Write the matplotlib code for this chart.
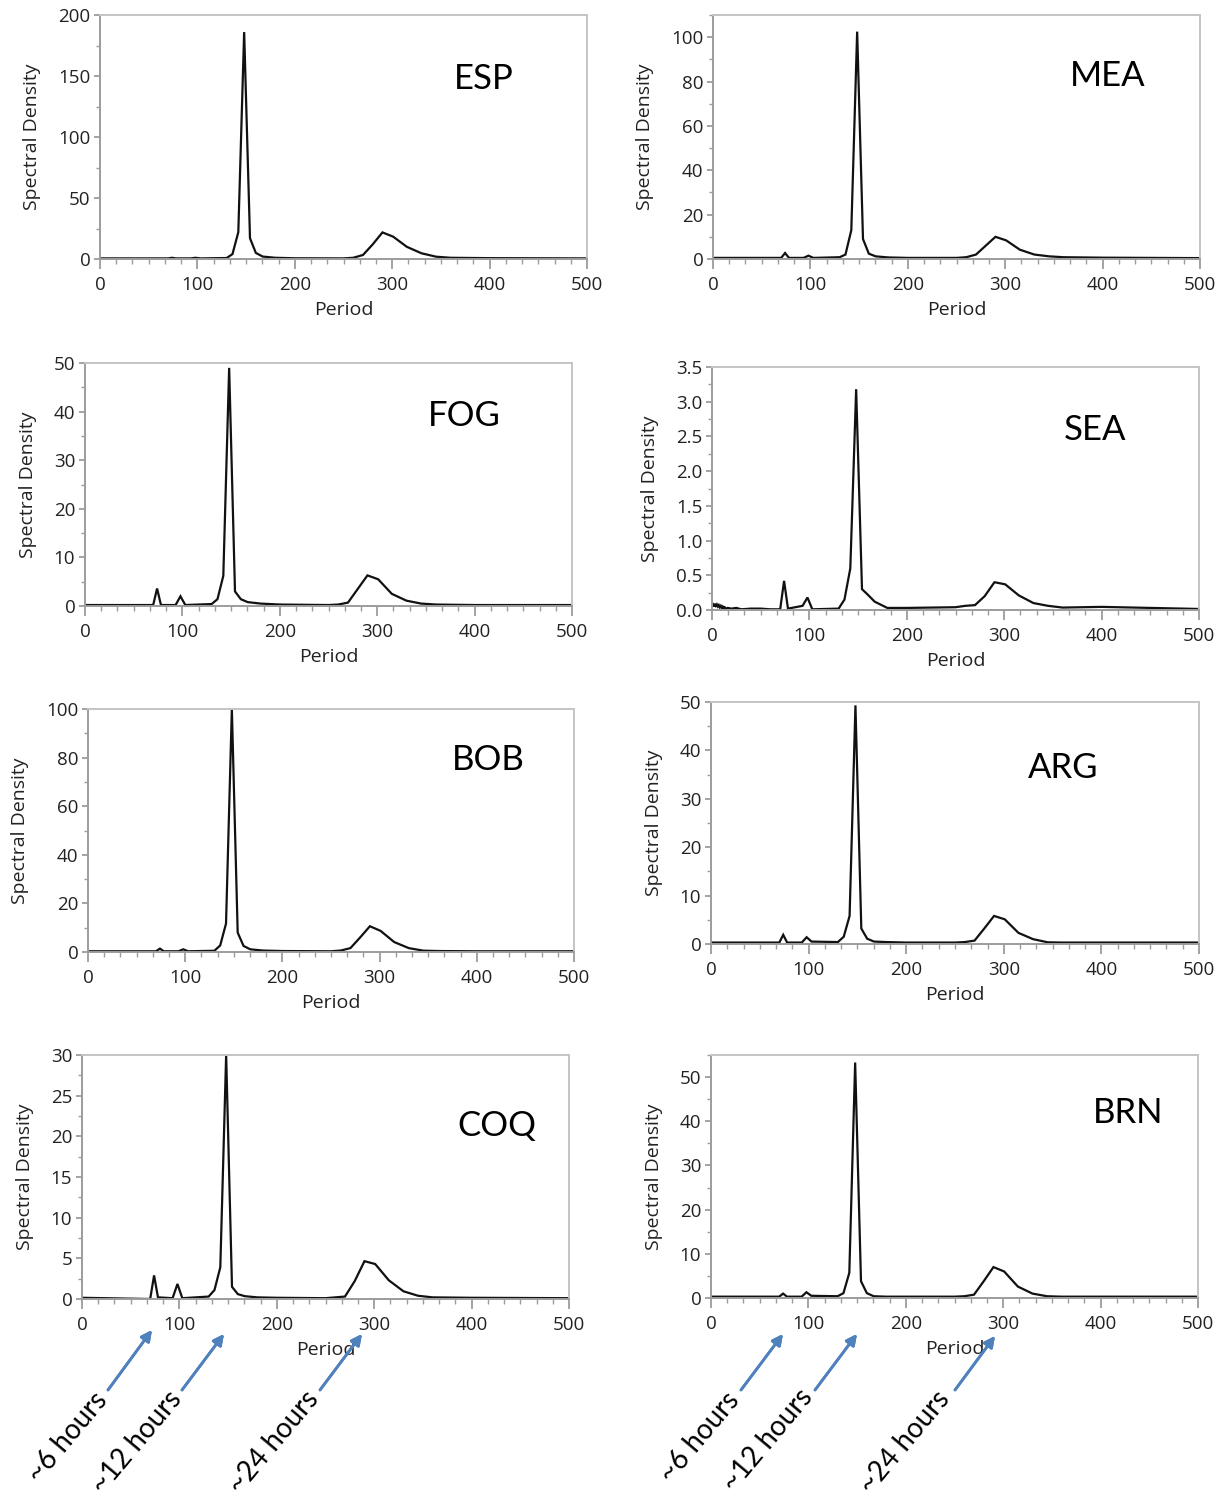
import matplotlib.pyplot as plt
from matplotlib.ticker import MultipleLocator, AutoMinorLocator, FormatStrFormatter

W, H = 1229, 1500

# common period grid
period = [0, 70, 74, 78, 93, 98, 103, 130, 136, 142, 148, 154, 160, 167, 180,
          200, 250, 260, 270, 280, 290, 301, 315, 330, 345, 360, 400, 500]

esp = [0.5, 0.5, 1.0, 0.5, 0.5, 1.0, 0.5, 0.8, 4, 22, 186, 17, 5, 2, 1,
       0.6, 0.5, 1.0, 3.3, 12, 21.8, 18.3, 10, 4.7, 1.9, 1, 0.7, 0.5]
mea = [0.5, 0.5, 2.7, 0.5, 0.5, 1.5, 0.5, 0.8, 2, 13, 102.5, 9, 2.4, 1.2, 0.7,
       0.5, 0.5, 0.8, 2, 6, 10, 8.4, 4.2, 2, 1.2, 0.8, 0.6, 0.4]
fog = [0.2, 0.2, 3.6, 0.2, 0.2, 2.0, 0.2, 0.4, 1.4, 6.2, 49, 3.0, 1.4, 0.8, 0.5,
       0.3, 0.2, 0.3, 0.7, 3.5, 6.3, 5.5, 2.5, 1.1, 0.5, 0.3, 0.2, 0.2]
sea = [0.05, 0.01, 0.42, 0.02, 0.06, 0.18, 0.01, 0.02, 0.15, 0.6, 3.18, 0.3, 0.22, 0.12, 0.03,
       0.03, 0.04, 0.06, 0.07, 0.2, 0.4, 0.37, 0.21, 0.1, 0.06, 0.035, 0.045, 0.015]
bob = [0.3, 0.3, 1.4, 0.3, 0.3, 1.1, 0.3, 0.5, 2.7, 11.7, 100, 8, 2.5, 1.1, 0.6,
       0.4, 0.3, 0.6, 1.6, 6, 10.6, 8.7, 4.1, 1.6, 0.55, 0.4, 0.3, 0.3]
arg = [0.3, 0.3, 1.9, 0.3, 0.3, 1.4, 0.5, 0.4, 1.5, 5.8, 49.3, 3.2, 1.1, 0.5, 0.4,
       0.3, 0.3, 0.4, 0.7, 3.2, 5.8, 5.1, 2.3, 1.0, 0.35, 0.3, 0.3, 0.3]
coq = [0.15, 0.0, 2.9, 0.2, 0.1, 1.85, 0.1, 0.3, 1.1, 3.9, 30, 1.5, 0.6, 0.35, 0.2,
       0.15, 0.1, 0.2, 0.3, 2.2, 4.65, 4.3, 2.3, 0.95, 0.4, 0.2, 0.15, 0.1]
brn = [0.3, 0.3, 1.0, 0.3, 0.3, 1.3, 0.5, 0.4, 1.1, 5.7, 53.3, 3.8, 1.1, 0.4, 0.3,
       0.3, 0.3, 0.4, 0.75, 3.8, 7.0, 6.0, 2.6, 1.0, 0.4, 0.3, 0.3, 0.3]

# SEA has a noisy stretch at the short periods
sea_noise_period = [0, 1, 2, 3, 4, 5, 6, 7, 8, 9, 10, 11, 12, 13, 14, 16, 20, 25, 30, 40, 50, 60]
sea_noise = [0.06, 0.08, 0.05, 0.09, 0.06, 0.08, 0.05, 0.07, 0.04, 0.06, 0.03,
             0.05, 0.03, 0.04, 0.02, 0.03, 0.02, 0.03, 0.01, 0.02, 0.02, 0.01]

names = ["ESP", "MEA", "FOG", "SEA", "BOB", "ARG", "COQ", "BRN"]
series = [esp, mea, fog, sea, bob, arg, coq, brn]
ylims = [200, 110, 50, 3.5, 100, 50, 30, 55]
ysteps = [50, 20, 10, 0.5, 20, 10, 5, 10]

hour_labels = ["~6 hours", "~12 hours", "~24 hours"]

# layout in pixels: left, top, right, bottom
boxes = [(100, 15, 587, 259), (713, 15, 1200, 259),
         (85, 363, 572, 606), (712, 367, 1199, 610),
         (88, 709, 574, 952), (711, 702, 1199, 944),
         (82, 1055, 569, 1299), (711, 1055, 1198, 1298)]
title_pos = [(484, 79), (1108, 76), (464, 416), (1095, 430),
             (488, 760), (1063, 768), (497, 1126), (1128, 1113)]

tick_font = "Open Sans"
call_font = "Lato"
spine_dark = "#9c9c9c"
spine_light = "#c4c4c4"
arrow_blue = "#4f81bd"

fig = plt.figure(figsize=(W / 100, H / 100), dpi=100)

for i, name in enumerate(names):
    l, t, r, b = boxes[i]
    ax = fig.add_axes([l / W, 1 - b / H, (r - l) / W, (b - t) / H])
    if name == "SEA":
        x = sea_noise_period + period[1:]
        y = sea_noise + sea[1:]
    else:
        x, y = period, series[i]
    ax.plot(x, y, color="#111111", lw=1.6, solid_joinstyle="miter")
    ax.set_xlim(0, 500)
    ax.set_ylim(0, ylims[i])
    ax.xaxis.set_major_locator(MultipleLocator(100))
    ax.xaxis.set_minor_locator(AutoMinorLocator(6))
    ax.yaxis.set_major_locator(MultipleLocator(ysteps[i]))
    ax.yaxis.set_minor_locator(AutoMinorLocator(2))
    if name == "SEA":
        ax.yaxis.set_major_formatter(FormatStrFormatter("%.1f"))
    for s in ["left", "bottom"]:
        ax.spines[s].set_color(spine_dark)
        ax.spines[s].set_linewidth(1.4)
    for s in ["top", "right"]:
        ax.spines[s].set_color(spine_light)
        ax.spines[s].set_linewidth(1.4)
    ax.tick_params(axis="x", which="major", direction="out", length=7, width=1.3,
                   color=spine_dark, labelsize=13.5, labelcolor="#222222", pad=5)
    ax.tick_params(axis="x", which="minor", direction="out", length=3.5, width=1.0,
                   color=spine_dark)
    ax.tick_params(axis="y", which="major", direction="out", length=4, width=1.3,
                   color=spine_dark, labelsize=13.5, labelcolor="#222222", pad=3)
    ax.tick_params(axis="y", which="minor", direction="out", length=3, width=1.0,
                   color=spine_dark)
    for lab in ax.get_xticklabels() + ax.get_yticklabels():
        lab.set_family(tick_font)
    ax.set_xlabel("Period", family=tick_font, fontsize=14, color="#222222", labelpad=5)
    ax.set_ylabel("Spectral Density", family=tick_font, fontsize=14, color="#222222",
                  labelpad=12)
    tx, ty = title_pos[i]
    fig.text(tx / W, 1 - ty / H, name, family=call_font, fontsize=25,
             ha="center", va="center", color="black")

# arrows and rotated labels under the bottom row
arrows = [((108, 1390), (152, 1330)), ((182, 1390), (224, 1334)), ((320, 1390), (362, 1334)),
          ((741, 1390), (783, 1334)), ((815, 1390), (857, 1334)), ((955, 1390), (995, 1336))]
label_pos = [(68, 1437), (137, 1442), (274, 1442), (700, 1437), (768, 1440), (905, 1442)]

for k, ((x0, y0), (x1, y1)) in enumerate(arrows):
    fig.add_artist(plt.annotate(
        "", xy=(x1 / W, 1 - y1 / H), xytext=(x0 / W, 1 - y0 / H),
        xycoords="figure fraction", textcoords="figure fraction",
        arrowprops=dict(arrowstyle="-|>", color=arrow_blue, lw=2,
                        mutation_scale=16, shrinkA=0, shrinkB=0)))
    lx, ly = label_pos[k]
    fig.text(lx / W, 1 - ly / H, hour_labels[k % 3], family=call_font, fontsize=20,
             rotation=50, ha="center", va="center", rotation_mode="anchor")

fig.savefig("out.png", dpi=100)
